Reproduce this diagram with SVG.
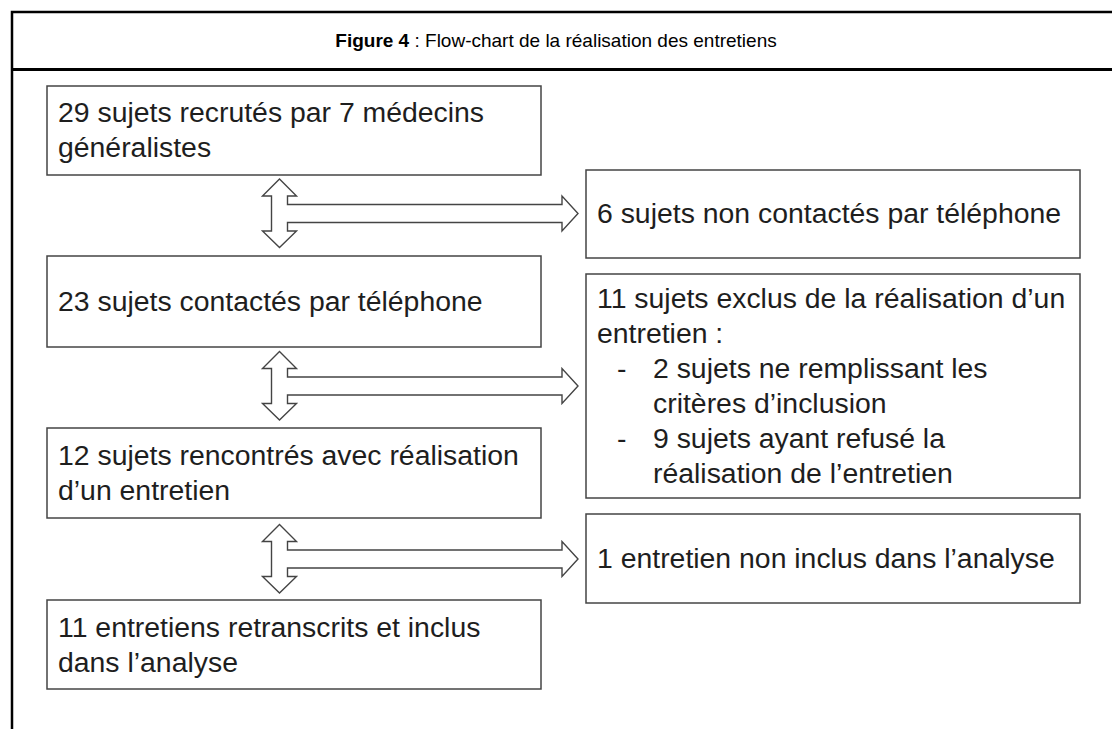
<svg xmlns="http://www.w3.org/2000/svg" width="1112" height="729" viewBox="0 0 1112 729">
<style>
.frame{stroke:#000;fill:none}
.box{fill:#fff;stroke:#444;stroke-width:1.5}
.t{font-family:"Liberation Sans",Arial,sans-serif;font-size:28.4px;fill:#1e1e1e}
.title{font-family:"Liberation Sans",Arial,sans-serif;font-size:19px;fill:#000;text-anchor:middle}
.arrow{fill:#fff;stroke:#444;stroke-width:1.4;stroke-linejoin:miter}
</style>
<defs>
<path id="dbl" d="M0,-34.5 L17,-17.5 L8,-17.5 L8,-9 L282.5,-9 L282.5,-17.5 L298.5,0 L282.5,17.5 L282.5,9 L8,9 L8,17.5 L17,17.5 L0,34 L-17,17.5 L-8,17.5 L-8,-17.5 L-17,-17.5 Z"/>
</defs>
<rect width="1112" height="729" fill="#fff"/>
<g id="frame">
<path class="frame" stroke-width="2.5" d="M12,729 V12 H1112"/>
<path class="frame" stroke-width="3" d="M12,69.5 H1112"/>
<text class="title" x="556" y="47"><tspan font-weight="bold">Figure 4</tspan> : Flow-chart de la réalisation des entretiens</text>
</g>
<g id="connectors">
<use href="#dbl" class="arrow" x="279.5" y="213.5"/>
<use href="#dbl" class="arrow" x="279.5" y="386"/>
<use href="#dbl" class="arrow" x="279.5" y="559"/>
</g>
<g id="n1">
<rect class="box" x="47" y="86" width="494" height="89"/>
<text class="t" x="58" y="122">29 sujets recrutés par 7 médecins</text>
<text class="t" x="58" y="157">généralistes</text>
</g>
<g id="n2">
<rect class="box" x="47" y="256" width="494" height="91"/>
<text class="t" x="58" y="311">23 sujets contactés par téléphone</text>
</g>
<g id="n3">
<rect class="box" x="47" y="428" width="494" height="90"/>
<text class="t" x="58" y="465">12 sujets rencontrés avec réalisation</text>
<text class="t" x="58" y="500">d’un entretien</text>
</g>
<g id="n4">
<rect class="box" x="47" y="600" width="494" height="89"/>
<text class="t" x="58" y="637">11 entretiens retranscrits et inclus</text>
<text class="t" x="58" y="672">dans l’analyse</text>
</g>
<g id="r1">
<rect class="box" x="586" y="170" width="494" height="88"/>
<text class="t" x="597" y="223">6 sujets non contactés par téléphone</text>
</g>
<g id="r2">
<rect class="box" x="586" y="274" width="494" height="224"/>
<text class="t" x="597" y="308">11 sujets exclus de la réalisation d’un</text>
<text class="t" x="597" y="343">entretien :</text>
<text class="t" x="617" y="378">-</text>
<text class="t" x="653" y="378">2 sujets ne remplissant les</text>
<text class="t" x="653" y="413">critères d’inclusion</text>
<text class="t" x="617" y="448">-</text>
<text class="t" x="653" y="448">9 sujets ayant refusé la</text>
<text class="t" x="653" y="483">réalisation de l’entretien</text>
</g>
<g id="r3">
<rect class="box" x="586" y="514" width="494" height="89"/>
<text class="t" x="597" y="568">1 entretien non inclus dans l’analyse</text>
</g>
</svg>
